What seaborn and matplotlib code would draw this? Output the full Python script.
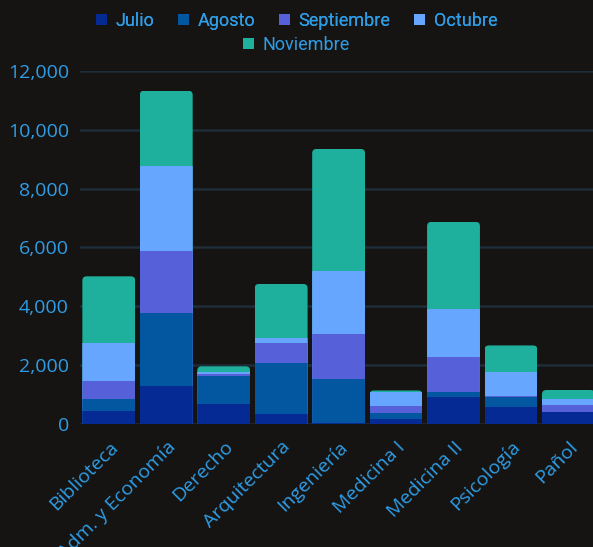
import numpy as np
import pandas as pd
import seaborn as sns
import matplotlib.pyplot as plt
from matplotlib.patches import FancyBboxPatch

# Datos por sede y mes
sedes = ['Biblioteca', 'Adm. y Economía', 'Derecho', 'Arquitectura', 'Ingeniería',
         'Medicina I', 'Medicina II', 'Psicología', 'Pañol']
meses = ['Julio', 'Agosto', 'Septiembre', 'Octubre', 'Noviembre']
julio = [430, 1300, 690, 350, 50, 180, 930, 590, 420]
agosto = [430, 2480, 930, 1735, 1490, 205, 170, 340, 0]
septiembre = [610, 2100, 70, 680, 1530, 235, 1190, 30, 235]
octubre = [1295, 2900, 90, 145, 2120, 455, 1610, 795, 205]
noviembre = [2255, 2550, 180, 1850, 4160, 65, 2970, 915, 295]
colores = ['#052a94', '#0357a0', '#5660d8', '#66a6ff', '#1eb09c']

df = pd.DataFrame({'sede': sedes, 'Julio': julio, 'Agosto': agosto,
                   'Septiembre': septiembre, 'Octubre': octubre, 'Noviembre': noviembre})
acum = df[meses].cumsum(axis=1)

text_color = '#2e9de6'
bg = '#161412'

sns.set_style('dark')
plt.rcParams['font.family'] = ['Open Sans', 'DejaVu Sans']

fig = plt.figure(figsize=(5.93, 5.47), dpi=100, facecolor=bg)
ax = fig.add_axes([0.135, 0.2249, 0.872, 0.6453])
ax.set_facecolor(bg)

# Barras apiladas: se dibuja el acumulado de arriba hacia abajo
for mes, color in reversed(list(zip(meses, colores))):
    sns.barplot(x=df['sede'], y=acum[mes], color=color, label=mes, width=0.92,
                saturation=1, linewidth=0, ax=ax, zorder=3)

ax.set_ylim(0, 12000)
ax.set_xlim(-0.5, 8.5)

# Esquinas superiores redondeadas (clip de cada columna)
n = len(sedes)
totales = acum['Noviembre'].values
for i in range(n):
    base = ax.patches[i]
    x0, w = base.get_x(), base.get_width()
    caja = FancyBboxPatch((x0, -600), w, totales[i] + 600,
                          boxstyle='round,pad=0,rounding_size=0.075',
                          mutation_aspect=1950, transform=ax.transData)
    for k in range(len(meses)):
        ax.patches[k * n + i].set_clip_path(caja)

ax.set_yticks(np.arange(0, 12001, 2000))
ax.set_yticklabels([f'{v:,}' for v in range(0, 12001, 2000)])
ax.grid(axis='y', color='#1d2d39', linewidth=1.8, zorder=0)
ax.grid(axis='x', visible=False)
for s in ax.spines.values():
    s.set_visible(False)
ax.set_xlabel('')
ax.set_ylabel('')
ax.tick_params(axis='y', colors=text_color, labelsize=14, length=0, pad=8)
ax.tick_params(axis='x', colors=text_color, labelsize=14, length=0, pad=10)
plt.setp(ax.get_xticklabels(), rotation=45, ha='right', rotation_mode='anchor')

# Leyenda en dos filas centradas
handles, labels = ax.get_legend_handles_labels()
orden = [labels.index(m) for m in meses]
handles = [handles[i] for i in orden]
labels = [labels[i] for i in orden]
leg_kw = dict(frameon=False, handlelength=0.6, handleheight=0.6, handletextpad=0.5,
              columnspacing=1.3, prop={'family': 'Roboto', 'size': 13}, labelcolor=text_color)
leg1 = fig.legend(handles[:4], labels[:4], loc='center', bbox_to_anchor=(0.5, 0.962),
                  ncol=4, **leg_kw)
fig.add_artist(leg1)
fig.legend(handles[4:], labels[4:], loc='center', bbox_to_anchor=(0.5, 0.918), ncol=1, **leg_kw)
if ax.get_legend():
    ax.get_legend().remove()

fig.savefig('out.png', dpi=100, facecolor=bg)
